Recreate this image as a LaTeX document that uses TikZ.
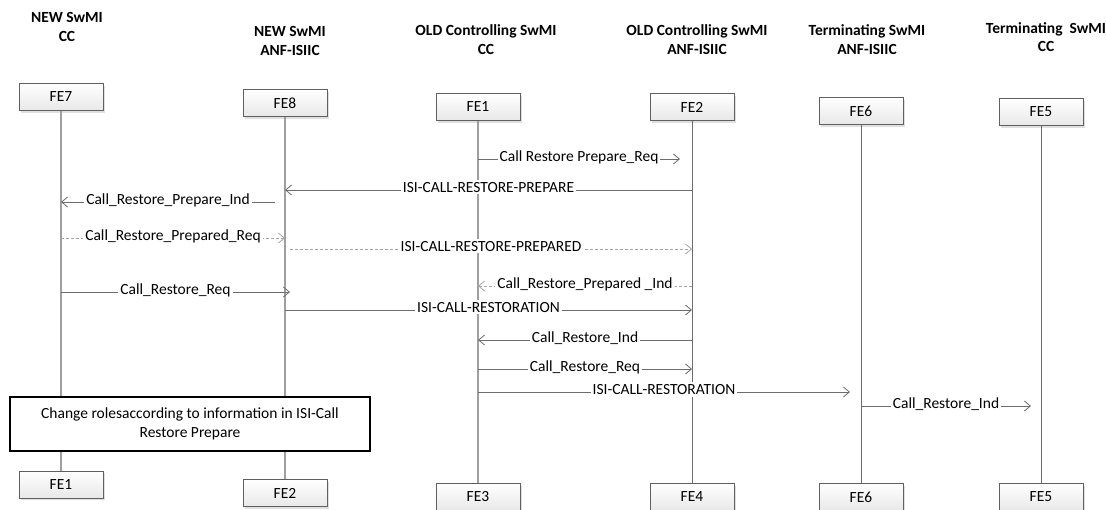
\documentclass[tikz,border=0pt]{standalone}
\usepackage{fontspec}
\setmainfont{Carlito}
\usetikzlibrary{positioning, arrows.meta, shadows}
\tikzstyle{febox} = [rectangle, minimum width=84pt, minimum height=27pt, text centered, draw=gray!75!black, top color=white, bottom color=gray!18, drop shadow={shadow xshift=2pt, shadow yshift=-2pt, fill=gray!25, opacity=1}, font=\fontsize{15.5}{18}\selectfont]
\tikzstyle{header} = [align=center, font=\fontsize{15.5}{18.5}\selectfont\bfseries]
\tikzstyle{lifeline} = [draw=gray!85!black, line width=0.9pt]
\tikzstyle{lifelinelight} = [draw=gray!75, line width=1.1pt]
\tikzstyle{arrow} = [draw=gray!85!black, line width=0.8pt, -{Straight Barb[length=6pt,width=10pt]}]
\tikzstyle{dasharrow} = [arrow, draw=gray!70, dash pattern=on 3pt off 2pt]
\tikzstyle{msg} = [midway, fill=white, inner sep=2pt, anchor=mid, text=black, font=\fontsize{15.5}{18}\selectfont]
\tikzstyle{note} = [rectangle, draw=black, line width=1.1pt, fill=white, align=center, minimum width=360pt, minimum height=54pt, font=\fontsize{15.5}{19}\selectfont]

\begin{document}
\begin{tikzpicture}[x=1pt, y=-1pt]
        \useasboundingbox (0,0) rectangle (1106,509);

        % Titres
        \node (hdrNewCC) [header] at (67,27) {NEW SwMI\\CC};
        \node (hdrNewAnf) [header] at (290,41) {NEW SwMI\\ANF-ISIIC};
        \node (hdrOldCC) [header] at (486,39.5) {OLD Controlling SwMI\\CC};
        \node (hdrOldAnf) [header] at (697,39.5) {OLD Controlling SwMI\\ANF-ISIIC};
        \node (hdrTermAnf) [header] at (867,39.5) {Terminating SwMI\\ANF-ISIIC};
        \node (hdrTermCC) [header] at (1046,37) {Terminating~~SwMI\\CC};

        % Boites du haut
        \node (fe7Top) [febox] at (61,97) {FE7};
        \node (fe8Top) [febox] at (285,103) {FE8};
        \node (fe1Top) [febox] at (478,107) {FE1};
        \node (fe2Top) [febox] at (692,107) {FE2};
        \node (fe6Top) [febox] at (861,111) {FE6};
        \node (fe5Top) [febox] at (1041,112) {FE5};

        % Boites du bas
        \node (fe1Bot) [febox] at (61,484.5) {FE1};
        \node (fe2Bot) [febox] at (285,493) {FE2};
        \node (fe3Bot) [febox] at (478,497) {FE3};
        \node (fe4Bot) [febox] at (692,497) {FE4};
        \node (fe6Bot) [febox] at (861,497) {FE6};
        \node (fe5Bot) [febox] at (1041,497) {FE5};

        % Lignes de vie
        \draw [lifelinelight] (fe7Top) -- (fe1Bot);
        \draw [lifelinelight] (fe8Top) -- (fe2Bot);
        \draw [lifelinelight] (fe1Top) -- (fe3Bot);
        \draw [lifeline] (fe2Top) -- (fe4Bot);
        \draw [lifeline] (fe6Top) -- (fe6Bot);
        \draw [lifeline] (fe5Top) -- (fe5Bot);

        % Niveaux des messages
        \coordinate (lvlPrepReq) at (0,159);
        \coordinate (lvlIsiPrep) at (0,190);
        \coordinate (lvlPrepInd) at (0,202);
        \coordinate (lvlPrepdReq) at (0,238);
        \coordinate (lvlIsiPrepd) at (0,249);
        \coordinate (lvlPrepdInd) at (0,286);
        \coordinate (lvlRestReqA) at (0,292);
        \coordinate (lvlIsiRestA) at (0,310);
        \coordinate (lvlRestIndA) at (0,340);
        \coordinate (lvlRestReqB) at (0,369);
        \coordinate (lvlIsiRestB) at (0,392);
        \coordinate (lvlRestIndB) at (0,406);

        % Messages
        \draw [arrow] (fe1Top |- lvlPrepReq) -- ([xshift=-12pt]fe2Top |- lvlPrepReq) node[msg]{Call Restore Prepare\_Req};
        \draw [arrow] (fe2Top |- lvlIsiPrep) -- (fe8Top |- lvlIsiPrep) node[msg]{ISI-CALL-RESTORE-PREPARE};
        \draw [arrow] ([xshift=-10pt]fe8Top |- lvlPrepInd) -- (fe7Top |- lvlPrepInd) node[msg]{Call\_Restore\_Prepare\_Ind};
        \draw [dasharrow] (fe7Top |- lvlPrepdReq) -- (fe8Top |- lvlPrepdReq) node[msg]{Call\_Restore\_Prepared\_Req};
        \draw [dasharrow] ([xshift=5pt]fe8Top |- lvlIsiPrepd) -- (fe2Top |- lvlIsiPrepd) node[msg]{ISI-CALL-RESTORE-PREPARED};
        \draw [dasharrow] (fe2Top |- lvlPrepdInd) -- (fe1Top |- lvlPrepdInd) node[msg]{Call\_Restore\_Prepared \_Ind};
        \draw [arrow] (fe7Top |- lvlRestReqA) -- ([xshift=5pt]fe8Top |- lvlRestReqA) node[msg]{Call\_Restore\_Req};
        \draw [arrow] (fe8Top |- lvlIsiRestA) -- (fe2Top |- lvlIsiRestA) node[msg]{ISI-CALL-RESTORATION};
        \draw [arrow] (fe2Top |- lvlRestIndA) -- (fe1Top |- lvlRestIndA) node[msg]{Call\_Restore\_Ind};
        \draw [arrow] (fe1Top |- lvlRestReqB) -- (fe2Top |- lvlRestReqB) node[msg]{Call\_Restore\_Req};
        \draw [arrow] (fe1Top |- lvlIsiRestB) -- ([xshift=-11pt]fe6Top |- lvlIsiRestB) node[msg]{ISI-CALL-RESTORATION};
        \draw [arrow] (fe6Top |- lvlRestIndB) -- ([xshift=-10pt]fe5Top |- lvlRestIndB) node[msg]{Call\_Restore\_Ind};

        % Changement de roles
        \node (changeRoles) [note] at (190,424) {Change rolesaccording to information in ISI-Call\\Restore Prepare};

\end{tikzpicture}
\end{document}
